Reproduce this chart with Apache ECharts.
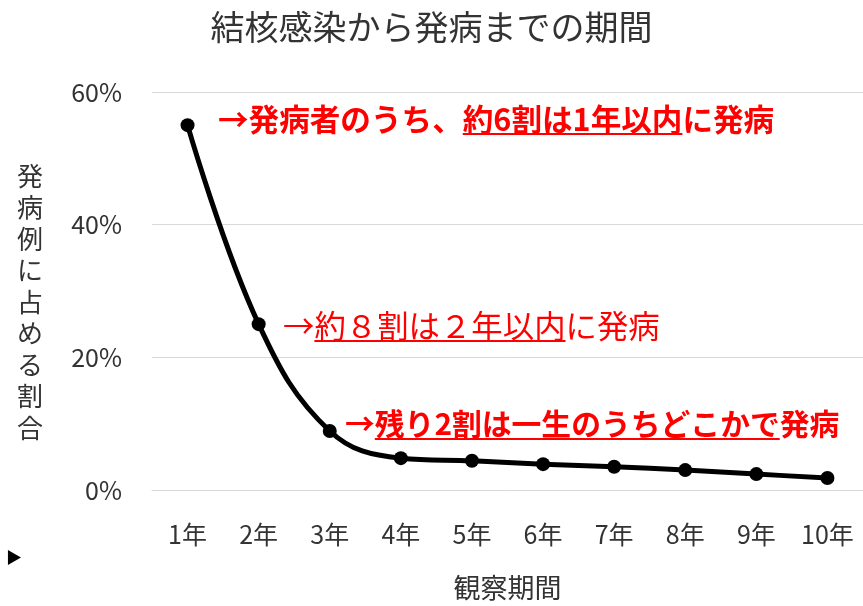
<!DOCTYPE html>
<html><head><meta charset="utf-8">
<script src="https://cdn.jsdelivr.net/npm/echarts@6/dist/echarts.min.js"></script>
<style>html,body{margin:0;padding:0;background:#fff}#c{width:863px;height:606px}</style>
</head><body><div id="c"></div>
<script>
var categories = ['1年','2年','3年','4年','5年','6年','7年','8年','9年','10年'];
var values = [55.0, 25.0, 8.9, 4.8, 4.4, 3.9, 3.5, 3.0, 2.4, 1.8];
var yTicks = [0, 20, 40, 60];
var titleText = '結核感染から発病までの期間';
var xName = '観察期間';
var yName = '発病例に占める割合';
var notes = [
  {pre:'→発病者のうち、', ul:'約6割は1年以内', post:'に発病', bold:true, x:218, cy:119, size:30.6},
  {pre:'→', ul:'約８割は２年以内', post:'に発病', bold:false, x:283, cy:326, size:31.4},
  {pre:'→', ul:'残り2割は一生のうちどこかで', post:'発病', bold:true, x:345, cy:424, size:29.8}
];
var FONT = '"Noto Sans CJK JP", "Noto Sans", sans-serif';
var ctx = document.createElement('canvas').getContext('2d');
function w(t, bold, size){ ctx.font = (bold?'bold ':'') + size + 'px ' + FONT; return ctx.measureText(t).width; }
var graphics = [];
notes.forEach(function(n){
  graphics.push({type:'text', x:n.x, y:n.cy, style:{text:n.pre+n.ul+n.post, fill:'#ff0000', font:(n.bold?'bold ':'')+n.size+'px '+FONT, verticalAlign:'middle', align:'left'}});
  var x0 = n.x + w(n.pre, n.bold, n.size), x1 = x0 + w(n.ul, n.bold, n.size);
  graphics.push({type:'line', shape:{x1:x0, y1:n.cy+15, x2:x1, y2:n.cy+15}, style:{stroke:'#ff0000', lineWidth:2}});
});
graphics.push({type:'text', left:6, top:549, style:{text:'▶', fill:'#000', font:'16px '+FONT}});
var chart = echarts.init(document.getElementById('c'));
chart.setOption({
  animation:false,
  title:{text:titleText, left:'center', top:5, textStyle:{fontFamily:FONT, fontSize:34, fontWeight:'normal', color:'#333'}},
  grid:{left:152, right:-2, top:92, bottom:115},
  xAxis:{type:'category', data:categories, boundaryGap:true,
    name:xName, nameLocation:'middle', nameGap:84, nameTextStyle:{fontFamily:FONT, fontSize:27, color:'#333'},
    axisLine:{show:true, lineStyle:{color:'#d9d9d9'}}, axisTick:{show:false},
    axisLabel:{interval:0, fontFamily:FONT, fontSize:25, color:'#333', margin:32}},
  yAxis:{type:'value', min:0, max:60, interval:20,
    axisLabel:{formatter:function(v){return v+'%';}, fontFamily:FONT, fontSize:25, color:'#333', margin:30},
    splitLine:{lineStyle:{color:'#d9d9d9', width:1}}, axisLine:{show:false}, axisTick:{show:false}},
  series:[{type:'line', data:values, smooth:0.4, symbol:'circle', symbolSize:14,
    lineStyle:{color:'#000', width:5}, itemStyle:{color:'#000'}}],
  graphic: graphics.concat([
    {type:'text', left:17, top:160, style:{text:yName.split('').join('\n'), fill:'#333', font:'26px '+FONT, lineHeight:31.5, align:'center'}}
  ])
});
</script></body></html>
